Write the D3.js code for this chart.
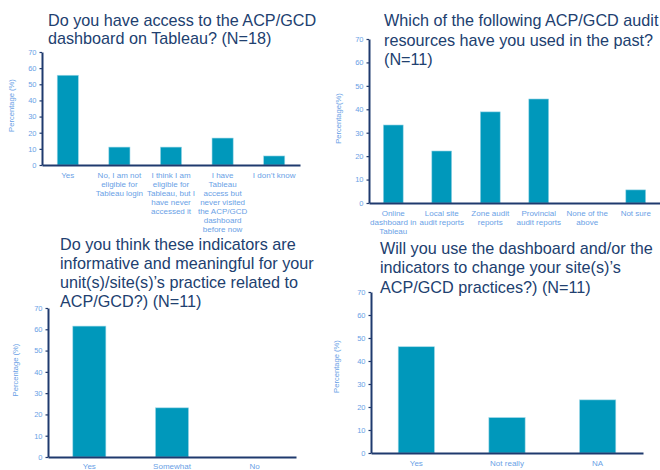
<!DOCTYPE html>
<html><head><meta charset="utf-8">
<script src="https://cdn.jsdelivr.net/npm/d3@7"></script>
<style>
html,body{margin:0;padding:0;background:#fff;}
svg{display:block;font-family:"Liberation Sans",Arial,sans-serif;}
</style></head>
<body><svg id="c" width="660" height="470"></svg>
<script>
// ---- data ----
const yTicks = [0, 10, 20, 30, 40, 50, 60, 70];

const q1Title = ["Do you have access to the ACP/GCD", "dashboard on Tableau? (N=18)"];
const q1Categories = [
  ["Yes"],
  ["No, I am not", "eligible for", "Tableau login"],
  ["I think I am", "eligible for", "Tableau, but I", "have never", "accessed it"],
  ["I have", "Tableau", "access but", "never visited", "the ACP/GCD", "dashboard", "before now"],
  ["I don\u2019t know"]
];
const q1Values = [55.6, 11.1, 11.1, 16.7, 5.6];

const q2Title = ["Which of the following ACP/GCD audit", "resources have you used in the past?", "(N=11)"];
const q2Categories = [
  ["Online", "dashboard in", "Tableau"],
  ["Local site", "audit reports"],
  ["Zone audit", "reports"],
  ["Provincial", "audit reports"],
  ["None of the", "above"],
  ["Not sure"]
];
const q2Values = [33.3, 22.2, 38.9, 44.4, 0, 5.6];

const q3Title = ["Do you think these indicators are", "informative and meaningful for your", "unit(s)/site(s)\u2019s practice related to", "ACP/GCD?) (N=11)"];
const q3Categories = [["Yes"], ["Somewhat"], ["No"]];
const q3Values = [61.5, 23.1, 0];

const q4Title = ["Will you use the dashboard and/or the", "indicators to change your site(s)\u2019s", "ACP/GCD practices?) (N=11)"];
const q4Categories = [["Yes"], ["Not really"], ["NA"]];
const q4Values = [46.2, 15.4, 23.1];

// ---- styles ----
const NAVY = "#1f3a6e", TITLE = "#21406f", LBL = "#6a9fe6", BAR = "#0098bb", EDGE = "#9fd8e8";

const svg = d3.select("#c");

function panel(cfg) {
  const g = svg.append("g");
  const x = d3.scaleBand().domain(d3.range(cfg.cats.length))
    .range([cfg.x0, cfg.x1]).paddingInner(cfg.pad).paddingOuter(cfg.pad / 2);
  const y = d3.scaleLinear().domain([0, 70]).range([cfg.y0, cfg.y1]);

  // title
  const t = g.append("text").attr("x", cfg.tx).attr("y", cfg.ty)
    .attr("fill", TITLE).attr("font-size", 16.2);
  cfg.title.forEach((s, i) => t.append("tspan").attr("x", cfg.tx).attr("y", cfg.ty + i * cfg.tl).text(s));

  // bars
  g.selectAll("rect.bar").data(cfg.vals).join("rect").attr("class", "bar")
    .attr("x", (d, i) => x(i)).attr("width", x.bandwidth())
    .attr("y", d => y(d)).attr("height", d => y(0) - y(d))
    .attr("fill", BAR).attr("stroke", EDGE).attr("stroke-width", d => d > 0 ? 0.6 : 0);

  // y axis
  const ya = g.append("g").attr("transform", `translate(${cfg.x0},0)`)
    .call(d3.axisLeft(y).tickValues(yTicks).tickSize(2.5).tickSizeOuter(0).tickPadding(3));
  ya.select(".domain").attr("stroke", NAVY).attr("stroke-width", 2);
  ya.selectAll(".tick line").attr("stroke", NAVY).attr("stroke-width", 1.2);
  ya.selectAll(".tick text").attr("fill", LBL).attr("font-size", 7.5)
    .attr("font-family", "Liberation Sans, Arial, sans-serif");

  // x axis line
  const xa = g.append("g").attr("transform", `translate(0,${cfg.y0})`)
    .call(d3.axisBottom(x).tickSize(0).tickFormat(""));
  xa.select(".domain").attr("stroke", NAVY).attr("stroke-width", 2);
  xa.selectAll(".tick").remove();

  // category labels
  cfg.cats.forEach((lines, i) => {
    const cx = x(i) + x.bandwidth() / 2;
    const tt = g.append("text").attr("text-anchor", "middle").attr("fill", LBL).attr("font-size", 8);
    lines.forEach((s, j) => tt.append("tspan").attr("x", cx).attr("y", cfg.y0 + cfg.ly + j * 9).text(s));
  });

  // y label
  g.append("text").attr("transform", `translate(${cfg.yx},${cfg.yy}) rotate(-90)`)
    .attr("text-anchor", "middle").attr("fill", LBL).attr("font-size", 7.6).text(cfg.ylab);
}

panel({title: q1Title, cats: q1Categories, vals: q1Values, x0: 42, x1: 300, y0: 165, y1: 52, pad: 0.59,
  tx: 48, ty: 25.7, tl: 18.6, ly: 13, yx: 13.7, yy: 105.5, ylab: "Percentage (%)"});
panel({title: q2Title, cats: q2Categories, vals: q2Values, x0: 369, x1: 660, y0: 203, y1: 39, pad: 0.59,
  tx: 384, ty: 26, tl: 19.5, ly: 13, yx: 341, yy: 118.5, ylab: "Percentage(%)"});
panel({title: q3Title, cats: q3Categories, vals: q3Values, x0: 48, x1: 296, y0: 457, y1: 308, pad: 0.6,
  tx: 60, ty: 250, tl: 19, ly: 12, yx: 17.7, yy: 370, ylab: "Percentage (%)"});
panel({title: q4Title, cats: q4Categories, vals: q4Values, x0: 371, x1: 643, y0: 453, y1: 292, pad: 0.6,
  tx: 380, ty: 254, tl: 19.3, ly: 12.5, yx: 338.7, yy: 366.5, ylab: "Percentage (%)"});
</script></body></html>
